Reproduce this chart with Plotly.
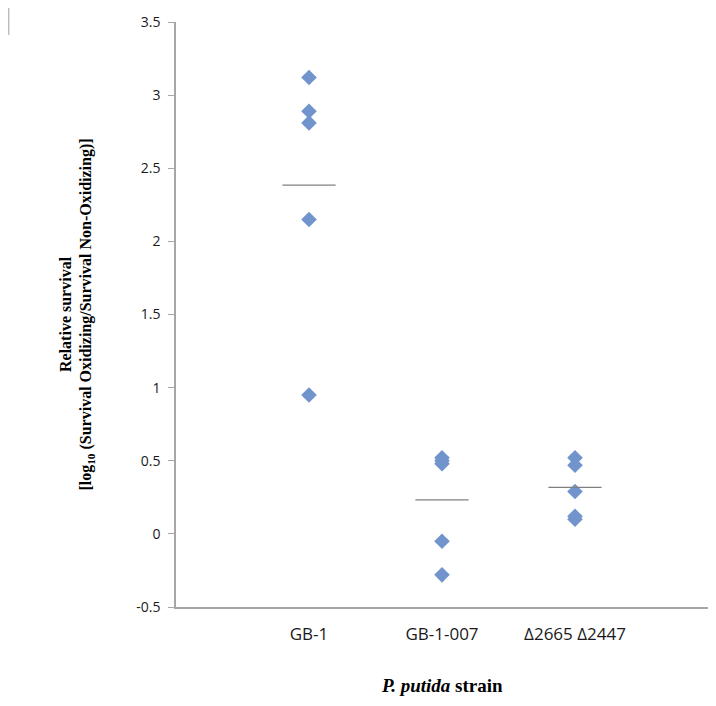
import plotly.graph_objects as go

categories = ["GB-1", "GB-1-007", "\u03942665 \u03942447"]
cat_pos = [1, 2, 3]
gb1 = [3.12, 2.89, 2.81, 2.15, 0.95]
gb1_007 = [0.52, 0.50, 0.48, -0.05, -0.28]
delta = [0.52, 0.47, 0.29, 0.12, 0.10]
means = [2.385, 0.232, 0.318]
y_ticks = [-0.5, 0, 0.5, 1, 1.5, 2, 2.5, 3, 3.5]

fig = go.Figure()
for pos, vals in zip(cat_pos, [gb1, gb1_007, delta]):
    fig.add_trace(go.Scatter(
        x=[pos] * len(vals), y=vals, mode="markers",
        marker=dict(symbol="diamond", size=12, color="#7094cb"),
        showlegend=False, hoverinfo="y"))

fig.add_trace(go.Scatter(
    x=cat_pos, y=means, mode="markers",
    marker=dict(symbol="line-ew", size=38, line=dict(color="#808080", width=1.2)),
    showlegend=False, hoverinfo="y"))

sans = "Open Sans, sans-serif"
serif = "Liberation Serif, Times New Roman, serif"

# The page body has a default 8px margin, so the figure is sized to fit inside it.
fig.update_layout(
    width=700, height=690,
    margin=dict(l=168, r=0, t=14, b=91),
    paper_bgcolor="white", plot_bgcolor="white",
    xaxis=dict(range=[0, 4], tickvals=cat_pos, ticktext=categories,
               showgrid=False, zeroline=False, showline=True,
               linecolor="#a6a6a6", linewidth=1.5, ticks="",
               tickfont=dict(family=sans, size=17, color="#1a1a1a"),
               ticklabelstandoff=11),
    yaxis=dict(range=[-0.5, 3.5], tickvals=y_ticks,
               ticktext=[str(t) for t in y_ticks],
               showgrid=False, zeroline=False, showline=True,
               linecolor="#a6a6a6", linewidth=1.5,
               ticks="outside", ticklen=6, tickcolor="#a6a6a6",
               tickfont=dict(family=sans, size=14, color="#1a1a1a"),
               ticklabelstandoff=5),
    annotations=[
        dict(x=0, y=0.5, xref="paper", yref="paper", xanchor="center",
             yanchor="middle", xshift=-100, textangle=-90, showarrow=False,
             text="<b>Relative survival</b><br><b>[log<sub>10</sub> (Survival Oxidizing/Survival Non-Oxidizing)]</b>",
             font=dict(family=serif, size=16, color="black")),
        dict(x=0.5, y=0, xref="paper", yref="paper", xanchor="center",
             yanchor="middle", yshift=-78, showarrow=False,
             text="<b><i>P. putida</i> strain</b>",
             font=dict(family=serif, size=19, color="black")),
    ],
    shapes=[dict(type="line", xref="paper", yref="paper",
                 x0=-0.3143, x1=-0.3143, y0=1.024, y1=0.978,
                 line=dict(color="#a0a0a0", width=1))],
)

fig.write_html("out.html")
